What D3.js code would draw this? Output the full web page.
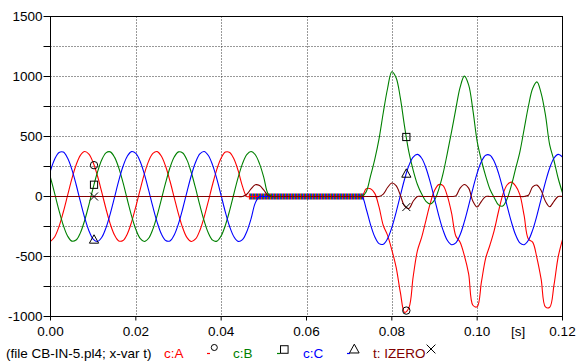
<!DOCTYPE html>
<html>
<head>
<meta charset="utf-8">
<script src="https://cdn.jsdelivr.net/npm/d3@7"></script>
<style>
  body { margin: 0; background: #fff; }
  svg { display: block; font-family: "Liberation Sans", Arial, sans-serif; }
</style>
</head>
<body>
<div id="chart"></div>
<script>
// sample instants (ms), one every millisecond from 0 to 120 ms
const timeMs = d3.range(0, 121);

// c:A (red)
const cA = [
  -374, -335, -250, -129, 9, 147, 263, 343, 375, 354,
  283, 173, 38, -102, -228, -321, -370, -367, -312, -213,
  -84, 56, 189, 295, 359, 374, 335, 250, 129, -9,
  -147, -263, -343, -375, -354, -283, -173, -38, 102, 228,
  321, 370, 367, 312, 213, 84, 0, 0, 0, 0,
  0, 0, 0, 0, 0, 0, 0, 0, 0, 0,
  0, 0, 0, 0, 0, 0, 0, 0, 0, 0,
  0, 0, 0, 0, 64, 64, 26, -87, -242, -324,
  -446, -588, -799, -966, -928, -669, -451, -339, -198, -58,
  49, 99, 90, 5, -138, -329, -381, -493, -644, -906,
  -919, -712, -514, -404, -282, -125, 14, 96, 120, 89,
  16, -158, -355, -380, -511, -691, -920, -923, -739, -501,
  -359
];

// c:B (green)
const cB = [
  158, 22, -117, -240, -329, -372, -363, -303, -200, -69,
  72, 202, 304, 364, 372, 328, 238, 115, -25, -161,
  -274, -349, -375, -348, -272, -158, -22, 117, 240, 329,
  372, 363, 303, 200, 69, -72, -202, -304, -364, -372,
  -328, -238, -115, 25, 161, 274, 349, 375, 348, 272,
  158, 22, 0, 0, 0, 0, 0, 0, 0, 0,
  0, 0, 0, 0, 0, 0, 0, 0, 0, 0,
  0, 0, 0, 0, 40, 170, 310, 480, 700, 900,
  1040, 990, 820, 580, 370, 220, 100, 20, -40, -62,
  -30, 60, 190, 360, 540, 730, 910, 1003, 930, 720,
  460, 300, 170, 60, -10, -70, -80, -20, 90, 230,
  370, 560, 750, 900, 955, 860, 680, 430, 300, 150,
  30
];

// c:C (blue)
const cC = [
  215, 313, 367, 370, 320, 226, 100, -41, -175, -285,
  -355, -375, -342, -261, -144, -7, 132, 252, 336, 374,
  359, 293, 186, 53, -87, -215, -313, -367, -370, -320,
  -226, -100, 41, 175, 285, 355, 375, 342, 261, 144,
  7, -132, -252, -336, -374, -359, -293, -186, -53, 0,
  0, 0, 0, 0, 0, 0, 0, 0, 0, 0,
  0, 0, 0, 0, 0, 0, 0, 0, 0, 0,
  0, 0, 0, 0, -104, -234, -336, -393, -398, -351,
  -258, -132, 9, 146, 258, 329, 351, 319, 238, 120,
  -19, -159, -280, -365, -402, -386, -319, -210, -76, 66,
  195, 292, 344, 344, 292, 195, 66, -76, -210, -319,
  -386, -402, -365, -280, -159, -19, 120, 238, 319, 351,
  329
];

// t: IZERO (maroon)
const izero = [
  0, 0, 0, 0, 0, 0, 0, 0, 0, 0,
  0, 0, 0, 0, 0, 0, 0, 0, 0, 0,
  0, 0, 0, 0, 0, 0, 0, 0, 0, 0,
  0, 0, 0, 0, 0, 0, 0, 0, 0, 0,
  0, 0, 0, 0, 0, 0, 19, 63, 98, 91,
  53, 7, 0, 0, 0, 0, 0, 0, 0, 0,
  0, 0, 0, 0, 0, 0, 0, 0, 0, 0,
  0, 0, 0, 0, 0, 0, 0, 0, 20, 75,
  112, 90, 10, -80, -100, -40, 0, 0, 0, 0,
  0, 0, 0, 0, 0, 5, 70, 100, 70, -40,
  -88, -40, 0, 0, 0, 0, 0, 0, 0, 0,
  0, 0, 10, 80, 95, 50, -40, -85, -40, 0,
  0
];

const markerTimesMs = [10.2, 83.4];
const chopWindowMs = [46.5, 73.5];   // breaker chopping band at zero

const yTicks = [-1000, -750, -500, -250, 0, 250, 500, 750, 1000, 1250, 1500];
const xTicks = [0, 0.02, 0.04, 0.06, 0.08, 0.10, 0.12];

const series = [
  { label: "c:A", values: cA, color: "#ff0000", marker: "circle" },
  { label: "c:B", values: cB, color: "#008000", marker: "square" },
  { label: "c:C", values: cC, color: "#0000ff", marker: "triangle" },
  { label: "t: IZERO", values: izero, color: "#800000", marker: "cross" }
];

const width = 576, height = 362;
const fontSize = 13.5;

const svg = d3.select("#chart").append("svg")
  .attr("width", width)
  .attr("height", height);

const x = d3.scaleLinear().domain([0, 0.12]).range([50.5, 562.5]);
const y = d3.scaleLinear().domain([-1000, 1500]).range([316.5, 16.5]);

// grid
const grid = svg.append("g")
  .attr("stroke", "#333")
  .attr("stroke-dasharray", "1,2")
  .attr("stroke-width", 1);

grid.selectAll(".h").data(yTicks.filter(d => d > -1000 && d < 1500)).join("line")
  .attr("x1", x(0)).attr("x2", x(0.12))
  .attr("y1", d => y(d)).attr("y2", d => y(d));

grid.selectAll(".v").data(xTicks.filter(d => d > 0 && d < 0.12)).join("line")
  .attr("x1", d => Math.round(x(d)) + 0.5).attr("x2", d => Math.round(x(d)) + 0.5)
  .attr("y1", y(1500)).attr("y2", y(-1000));

// axes
const yAxis = d3.axisLeft(y)
  .tickValues(yTicks)
  .tickSize(7)
  .tickSizeOuter(0)
  .tickPadding(1)
  .offset(0)
  .tickFormat(d => d % 500 === 0 ? d : "");

svg.append("g")
  .attr("transform", `translate(${x(0)},0)`)
  .call(yAxis)
  .call(g => g.select(".domain").remove())
  .call(g => g.selectAll("text").attr("font-size", fontSize).attr("font-family", "Liberation Sans, Arial, sans-serif").attr("fill", "#000"));

const xAxis = d3.axisBottom(x)
  .tickValues(xTicks)
  .tickSize(4)
  .tickSizeOuter(0)
  .tickPadding(5.5)
  .offset(0)
  .tickFormat(d3.format(".2f"));

svg.append("g")
  .attr("transform", `translate(0,${y(-1000)})`)
  .call(xAxis)
  .call(g => g.select(".domain").remove())
  .call(g => g.selectAll("text").attr("font-size", fontSize).attr("font-family", "Liberation Sans, Arial, sans-serif").attr("fill", "#000"));

svg.append("text")
  .attr("x", 511)
  .attr("y", 336)
  .attr("font-size", fontSize)
  .text("[s]");

// chopping band: overlapping coloured stripes on the zero line
const band = svg.append("g");
series.slice(0, 3).forEach((s, i) => {
  band.append("line")
    .attr("x1", x(chopWindowMs[0] / 1000))
    .attr("x2", x(chopWindowMs[1] / 1000))
    .attr("y1", y(0)).attr("y2", y(0))
    .attr("stroke", s.color)
    .attr("stroke-width", 6)
    .attr("stroke-dasharray", "1,2")
    .attr("stroke-dashoffset", -i);
});

// curves
const line = d3.line()
  .x((d, i) => x(timeMs[i] / 1000))
  .y(d => y(d))
  .curve(d3.curveCatmullRom);

svg.append("g")
  .attr("fill", "none")
  .attr("stroke-width", 1.1)
  .selectAll("path")
  .data(series)
  .join("path")
  .attr("stroke", d => d.color)
  .attr("d", d => line(d.values));

// markers
function drawMarker(g, kind, cx, cy, s) {
  if (kind === "circle") {
    g.append("circle").attr("cx", cx).attr("cy", cy).attr("r", 3.7 * s);
  } else if (kind === "square") {
    const h = 3.6 * s;
    g.append("rect").attr("x", cx - h).attr("y", cy - h).attr("width", 2 * h).attr("height", 2 * h);
  } else if (kind === "triangle") {
    g.append("path").attr("d",
      `M${cx},${cy - 4.8 * s}L${cx + 4.6 * s},${cy + 3.6 * s}L${cx - 4.6 * s},${cy + 3.6 * s}Z`);
  } else {
    const h = 4 * s;
    g.append("path").attr("d",
      `M${cx - h},${cy - h}L${cx + h},${cy + h}M${cx - h},${cy + h}L${cx + h},${cy - h}`);
  }
}

const markers = svg.append("g")
  .attr("fill", "none")
  .attr("stroke", "#000")
  .attr("stroke-width", 1);

series.forEach(s => {
  const interp = d3.scaleLinear().domain(timeMs).range(s.values);
  markerTimesMs.forEach(t => {
    drawMarker(markers, s.marker, x(t / 1000), y(interp(t)), 1);
  });
});

// frame
svg.append("rect")
  .attr("x", x(0)).attr("y", y(1500))
  .attr("width", x(0.12) - x(0))
  .attr("height", y(-1000) - y(1500))
  .attr("fill", "none")
  .attr("stroke", "#000")
  .attr("stroke-width", 1);

// legend line
const legend = svg.append("g").attr("font-size", fontSize);
legend.append("text")
  .attr("x", 6).attr("y", 358)
  .attr("fill", "#000")
  .text("(file CB-IN-5.pl4; x-var t)");

const legendX = [164, 233, 303, 373];
const legendMarkerY = [347.5, 349.5, 349.2, 349];
series.forEach((s, i) => {
  const t = legend.append("text")
    .attr("x", legendX[i]).attr("y", 358)
    .attr("fill", s.color)
    .text(s.label);
  const end = legendX[i] + t.node().getComputedTextLength();
  const mg = legend.append("g").attr("fill", "none").attr("stroke", "#000");
  if (i < 3) {
    const dx = legendX[i + 1] - 23;
    legend.append("line")
      .attr("x1", dx - 3).attr("x2", dx)
      .attr("y1", 353.5).attr("y2", 353.5)
      .attr("stroke", s.color).attr("stroke-width", 1.2);
    drawMarker(mg, s.marker, dx + 4.3, legendMarkerY[i], i === 0 ? 0.82 : 1.05);
  } else {
    drawMarker(mg, s.marker, end + 5.5, legendMarkerY[i], 1.1);
  }
});
</script>
</body>
</html>
